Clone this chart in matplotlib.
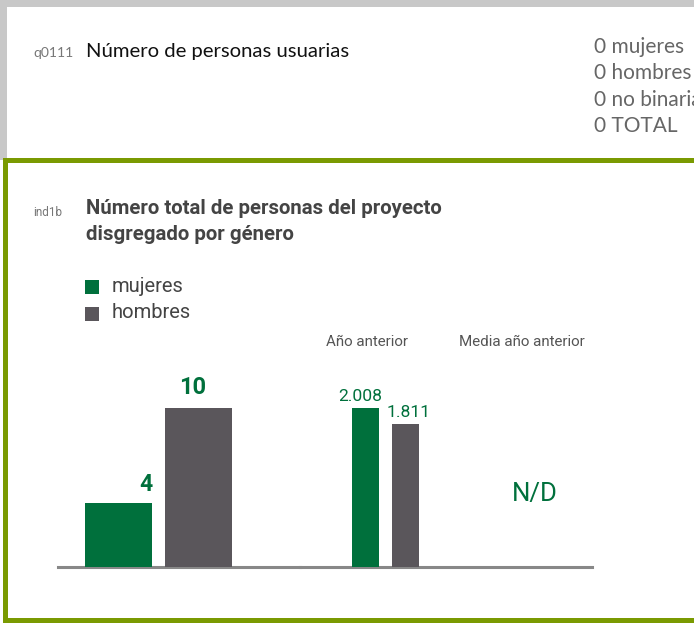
import matplotlib
matplotlib.use('Agg')
import matplotlib.pyplot as plt
from matplotlib.patches import Rectangle

# data
genders = ['mujeres', 'hombres']
current = [4, 10]
previous_year = [2008, 1811]
previous_mean = 'N/D'
usuarias_labels = ['mujeres', 'hombres', 'no binaria', 'TOTAL']
usuarias_values = [0, 0, 0, 0]

GREEN = '#00703c'
GRAY = '#5a565b'
FRAME_GREEN = '#7a9a01'
FRAME_GRAY = '#c8c8c8'
LINE = '#888888'

W, H = 694, 624
fig = plt.figure(figsize=(W / 100, H / 100), dpi=100)


def frac(x0, y0, w, h):
    # pixel box (from top-left) -> figure fraction
    return [x0 / W, 1 - (y0 + h) / H, w / W, h / H]


bg = fig.add_axes([0, 0, 1, 1])
bg.set_xlim(0, W)
bg.set_ylim(H, 0)
bg.axis('off')

# frames
bg.add_patch(Rectangle((0, 0), 7, 160, color=FRAME_GRAY, lw=0))
bg.add_patch(Rectangle((0, 0), W, 7, color=FRAME_GRAY, lw=0))
bg.add_patch(Rectangle((3, 158), 5, 465, color=FRAME_GREEN, lw=0))
bg.add_patch(Rectangle((3, 158), W, 5, color=FRAME_GREEN, lw=0))
bg.add_patch(Rectangle((3, 618), W, 5, color=FRAME_GREEN, lw=0))

# top block
top_font = 'Lato'
bg.text(33, 53, 'q0111', fontsize=10, color='#777777', va='center', family=top_font)
bg.text(86, 52, 'Número de personas usuarias', fontsize=14.6, color='#111111',
        va='center', family=top_font)
for i, (lab, val) in enumerate(zip(usuarias_labels, usuarias_values)):
    bg.text(594, 47 + i * 26.3, f'{val} {lab}', fontsize=15, color='#666666',
            va='center', family=top_font, clip_on=True)

# chart block
font = 'Roboto'
bg.text(33, 213, 'ind1b', fontsize=8.5, color='#777777', va='center', family=font)
bg.text(86, 208, 'Número total de personas del proyecto', fontsize=14.7,
        fontweight='bold', color='#444444', va='center', family=font)
bg.text(86, 235, 'disgregado por género', fontsize=14.7,
        fontweight='bold', color='#444444', va='center', family=font)

for i, (g, c) in enumerate(zip(genders, [GREEN, GRAY])):
    bg.add_patch(Rectangle((85, 280 + i * 27), 14, 14, color=c, lw=0))
    bg.text(112, 287 + i * 26, g, fontsize=14.5, color='#444444', va='center', family=font)

bg.text(367.5, 342, 'Año anterior', fontsize=10.9, color='#555555',
        ha='center', va='center', family=font)
bg.text(522, 342, 'Media año anterior', fontsize=10.9, color='#555555',
        ha='center', va='center', family=font)
bg.text(535, 494, previous_mean, fontsize=18.5, color=GREEN,
        ha='center', va='center', family=font)


def style(ax):
    ax.set_facecolor('none')
    for s in ['top', 'left', 'right']:
        ax.spines[s].set_visible(False)
    ax.spines['bottom'].set_color(LINE)
    ax.spines['bottom'].set_linewidth(2.2)
    ax.set_xticks([])
    ax.set_yticks([])


# current values
ax1 = fig.add_axes(frac(58, 367, 242, 200))
style(ax1)
w1 = 67 / 80
ax1.bar([0, 1], current, width=w1, color=[GREEN, GRAY], zorder=3)
ax1.set_xlim(-60.5 / 80, 181.5 / 80)
ax1.set_ylim(0, max(current) * 200 / 159)
ax1.annotate(str(current[0]), xy=(w1 / 2, current[0]), xytext=(0, 8.6),
             textcoords='offset points', ha='right', va='baseline',
             fontsize=16.5, fontweight='bold', color=GREEN, family=font)
ax1.annotate(str(current[1]), xy=(1, current[1]), xytext=(-4, 10),
             textcoords='offset points', ha='center', va='baseline',
             fontsize=17, fontweight='bold', color=GREEN, family=font)

# previous year
ax2 = fig.add_axes(frac(300, 367, 292, 200))
style(ax2)
w2 = 27 / 40
ax2.bar([0, 1], previous_year, width=w2, color=[GREEN, GRAY], zorder=3)
ax2.set_xlim(-65.5 / 40, 226.5 / 40)
ax2.set_ylim(0, max(previous_year) * 200 / 159)
for x, v, dx in zip([0, 1], previous_year, [-3.6, 2.5]):
    ax2.annotate(f'{v:,}'.replace(',', '.'), xy=(x, v), xytext=(dx, 5),
                 textcoords='offset points', ha='center', va='baseline',
                 fontsize=12.6, color=GREEN, family=font)

fig.savefig('out.png', dpi=100)
